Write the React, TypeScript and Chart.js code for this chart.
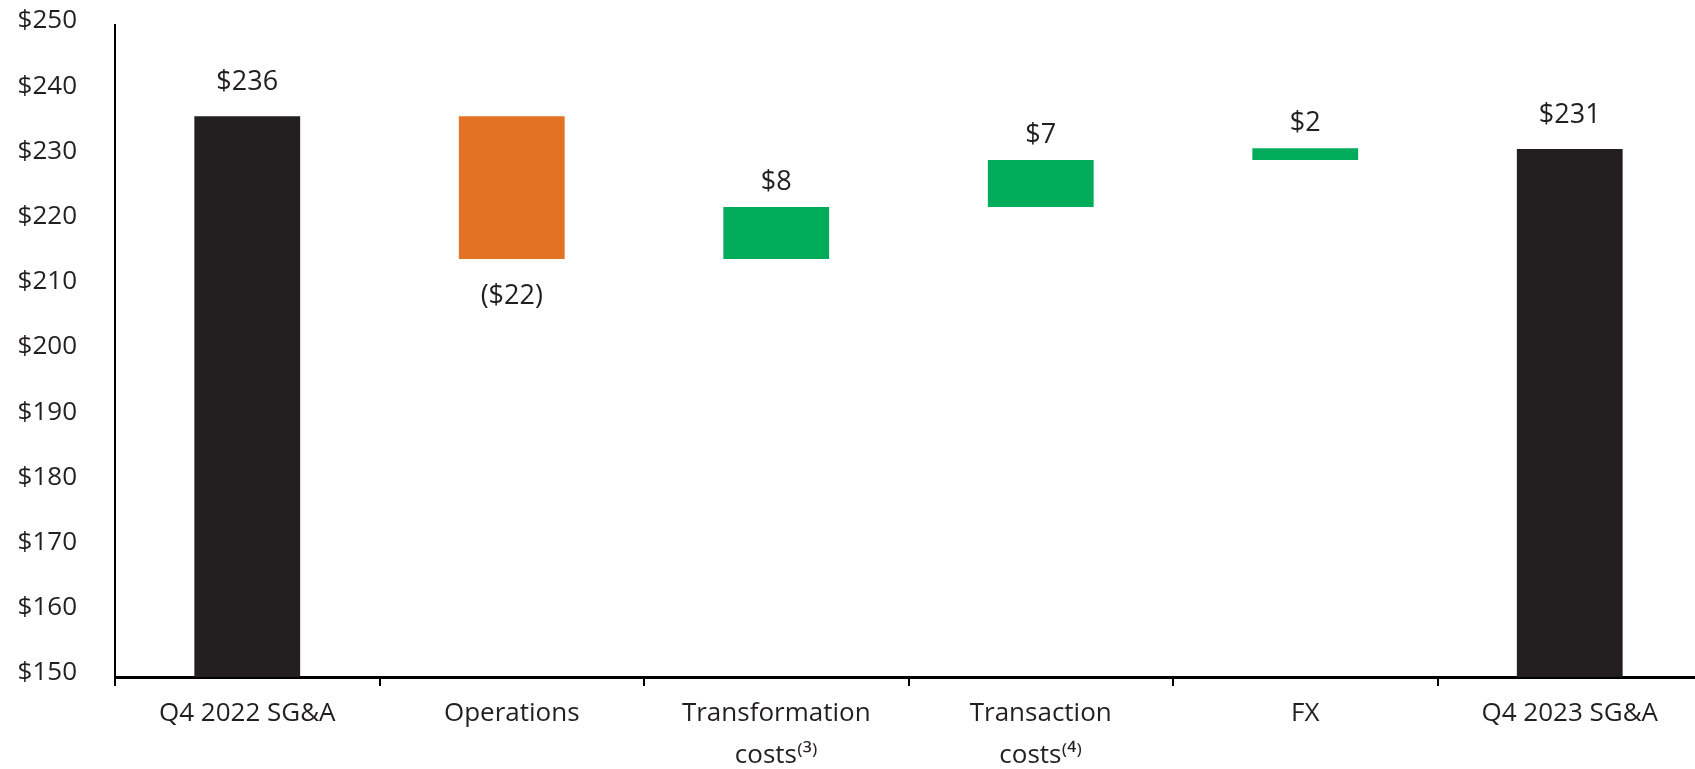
import React, { useEffect, useRef } from "react";
import { Chart, registerables } from "chart.js";

Chart.register(...registerables);

// ---- Data ----
const categories: string[][] = [
  ["Q4 2022 SG&A"],
  ["Operations"],
  ["Transformation", "costs⁽³⁾"],
  ["Transaction", "costs⁽⁴⁾"],
  ["FX"],
  ["Q4 2023 SG&A"],
];
const barKinds = ["total", "change", "change", "change", "change", "total"];
const barValues = [236.0, -21.9, 8.0, 7.2, 1.8, 231.0];
const valueLabels = ["$236", "($22)", "$8", "$7", "$2", "$231"];
const yMin = 150;
const yMax = 250;
const yStep = 10;

// ---- Styles ----
const COLOR_TOTAL = "#231F20";
const COLOR_UP = "#00AB5A";
const COLOR_DOWN = "#E37224";
const TEXT_COLOR = "#231F20";
const FONT = "'Open Sans', 'Noto Sans', sans-serif";

function buildRanges() {
  const ranges: [number, number][] = [];
  let running = 0;
  barValues.forEach((v, i) => {
    if (barKinds[i] === "total") {
      ranges.push([yMin, v]);
      running = v;
    } else {
      ranges.push([running, running + v]);
      running += v;
    }
  });
  return ranges;
}

function barColors() {
  return barValues.map((v, i) =>
    barKinds[i] === "total" ? COLOR_TOTAL : v < 0 ? COLOR_DOWN : COLOR_UP
  );
}

const valueLabelPlugin = {
  id: "valueLabels",
  afterDatasetsDraw(chart: any) {
    const { ctx } = chart;
    const meta = chart.getDatasetMeta(0);
    ctx.save();
    ctx.font = `27px ${FONT}`;
    ctx.fillStyle = TEXT_COLOR;
    ctx.textAlign = "center";
    ctx.textBaseline = "middle";
    meta.data.forEach((bar: any, i: number) => {
      const { x, y, base } = bar.getProps(["x", "y", "base"], true);
      const top = Math.min(y, base);
      const bottom = Math.max(y, base);
      const isTotal = barKinds[i] === "total";
      let ly: number;
      if (!isTotal && barValues[i] < 0) ly = bottom + 37;
      else ly = top - (isTotal ? 34 : 25);
      ctx.fillText(valueLabels[i], x, ly);
    });
    ctx.restore();
  },
};

export default function App() {
  const ref = useRef<HTMLCanvasElement>(null);

  useEffect(() => {
    if (!ref.current) return;
    Chart.defaults.font.family = FONT;
    const chart = new Chart(ref.current, {
      type: "bar",
      data: {
        labels: categories,
        datasets: [
          {
            data: buildRanges() as any,
            backgroundColor: barColors(),
            borderWidth: 0,
            barPercentage: 0.4,
            categoryPercentage: 1,
          },
        ],
      },
      options: {
        animation: false,
        responsive: false,
        layout: { padding: { top: 25, left: 0, right: 0, bottom: 0 } },
        plugins: {
          legend: { display: false },
          tooltip: { enabled: false },
        },
        scales: {
          x: {
            grid: {
              display: true,
              drawOnChartArea: false,
              drawTicks: true,
              tickLength: 9,
              color: "#000",
              lineWidth: 2,
              offset: true,
            },
            border: { display: true, color: "#000", width: 3 },
            ticks: {
              font: { family: FONT, size: 26, lineHeight: 1.64 },
              color: TEXT_COLOR,
              padding: 6,
              maxRotation: 0,
              autoSkip: false,
            },
            afterFit: (s: any) => {
              s.height = 92;
              s.paddingLeft = 0;
              s.paddingRight = 0;
            },
          },
          y: {
            min: yMin,
            max: yMax,
            grid: { display: false, drawTicks: false },
            border: { display: true, color: "#000", width: 2 },
            ticks: {
              stepSize: yStep,
              callback: (v: any) => "$" + v,
              font: { family: FONT, size: 26 },
              color: TEXT_COLOR,
              padding: 38,
              labelOffset: -4,
            },
            afterFit: (s: any) => {
              s.width = 115;
              s.paddingTop = 0;
              s.paddingBottom = 0;
            },
          },
        },
      },
      plugins: [valueLabelPlugin],
    });
    return () => chart.destroy();
  }, []);

  return (
    <div
      style={{
        position: "fixed",
        left: 0,
        top: 0,
        width: 1695,
        height: 769,
        overflow: "hidden",
        background: "#fff",
      }}
    >
      <canvas ref={ref} width={1702} height={769} style={{ display: "block" }} />
    </div>
  );
}
